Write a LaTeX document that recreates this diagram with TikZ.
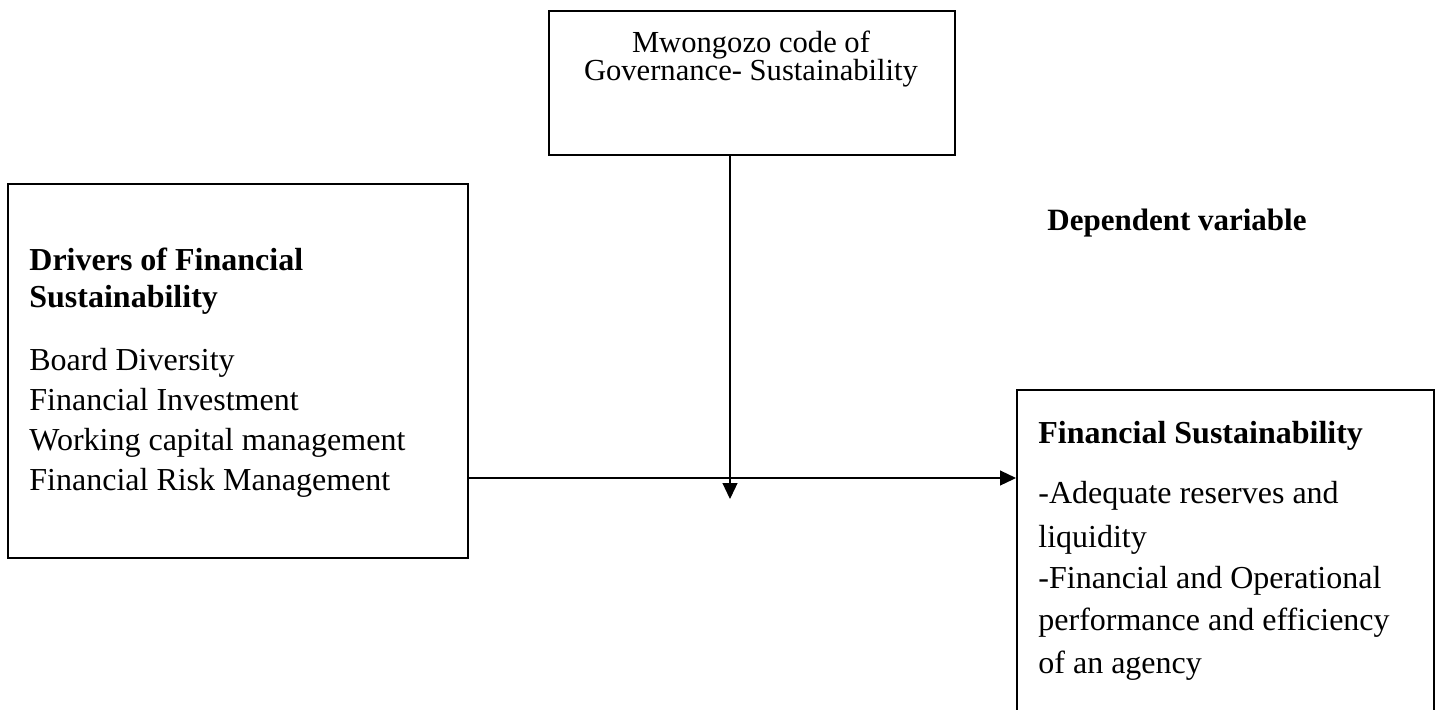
\documentclass[tikz,border=0pt]{standalone}
\usepackage{fontspec}
\setmainfont{Liberation Serif}
\usetikzlibrary{arrows.meta}
\begin{document}
\begin{tikzpicture}[x=0.5pt,y=-0.5pt,
  box/.style={draw,line width=1.1pt,inner sep=0pt,anchor=north west},
  txt/.style={inner sep=0pt,anchor=base west,font=\fontsize{16pt}{20pt}\selectfont},
  hdr/.style={txt,font=\fontsize{16pt}{20pt}\selectfont\bfseries},
  ctr/.style={inner sep=0pt,anchor=base,font=\fontsize{15.3pt}{18pt}\selectfont},
  conn/.style={line width=0.6pt},
  tip/.style={-{Triangle[length=8pt,width=7.5pt]}}]
\useasboundingbox (0,0) rectangle (1440,709);
\clip (0,0) rectangle (1440,709);
% boxes
\node[box,minimum width=406*0.5pt,minimum height=144*0.5pt] (gov) at (548,10) {};
\node[box,minimum width=460*0.5pt,minimum height=374*0.5pt] (drv) at (7,183) {};
\node[box,minimum width=417*0.5pt,minimum height=400*0.5pt] (fin) at (1016,389) {};
% texts: top box
\node[ctr] (gov1) at (751,52) {Mwongozo code of};
\node[ctr] (gov2) at (751,80) {Governance- Sustainability};
% left box
\node[hdr] (drvh1) at (29,270) {Drivers of Financial};
\node[hdr] (drvh2) at (29,307) {Sustainability};
\node[txt] (drv1) at (29,370) {Board Diversity};
\node[txt] (drv2) at (29,410) {Financial Investment};
\node[txt] (drv3) at (29,450) {Working capital management};
\node[txt] (drv4) at (29,490) {Financial Risk Management};
% dependent variable
\node[hdr,font=\fontsize{15.5pt}{20pt}\selectfont\bfseries] (dep) at (1047,230) {Dependent variable};
% right box
\node[hdr] (finh) at (1038,443) {Financial Sustainability};
\node[txt] (fin1) at (1038,503) {-Adequate reserves and};
\node[txt] (fin2) at (1038,547) {liquidity};
\node[txt] (fin3) at (1038,588) {-Financial and Operational};
\node[txt] (fin4) at (1038,630) {performance and efficiency};
\node[txt] (fin5) at (1038,673) {of an agency};
% connectors
\coordinate (vx) at (730,0);
\coordinate (hy) at (0,478);
\coordinate (vend) at (730,499);
\draw[conn,tip] (gov.south -| vx) -- (vend);
\draw[conn,tip] (drv.east |- hy) -- (fin.west |- hy);
\end{tikzpicture}
\end{document}
